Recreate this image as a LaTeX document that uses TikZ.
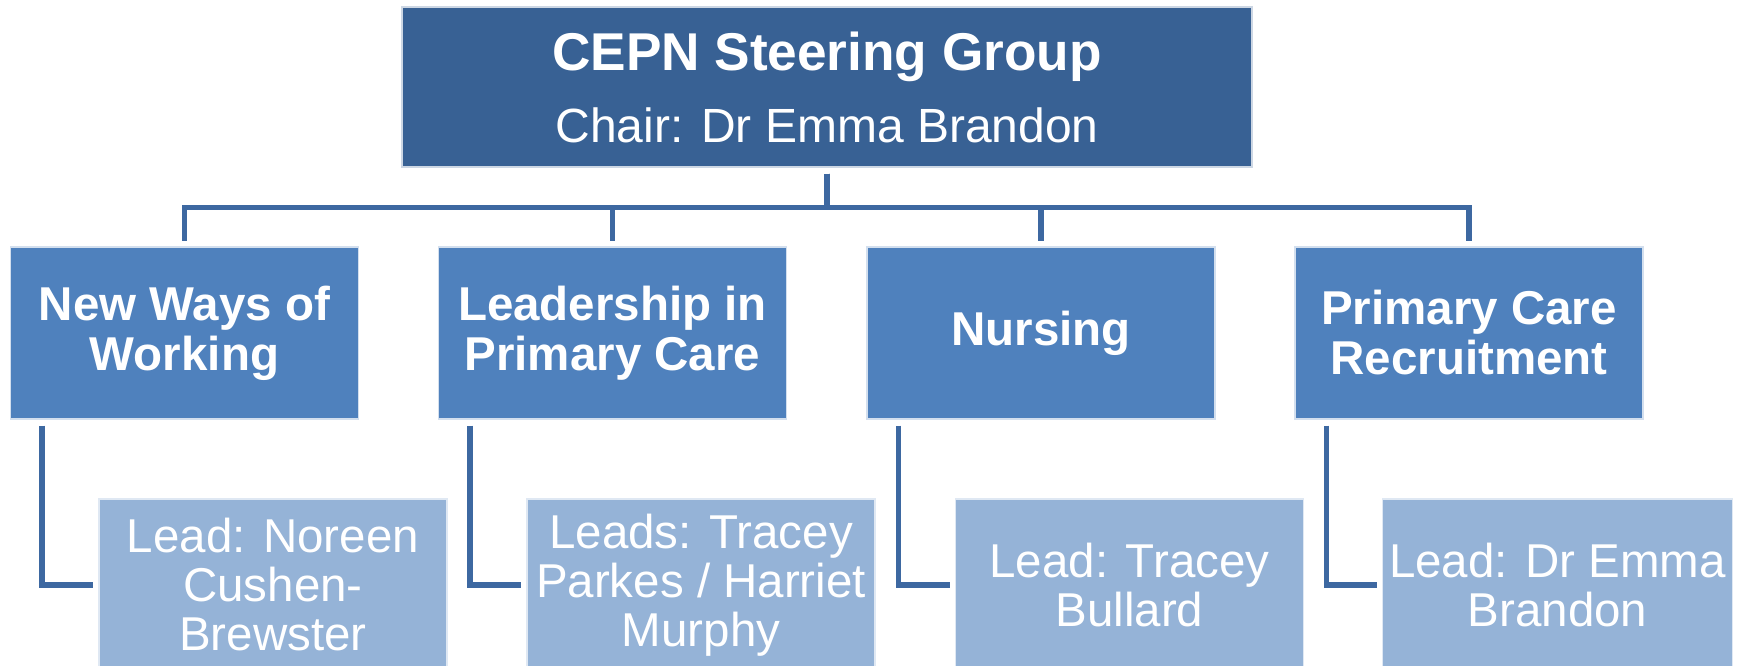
\documentclass[tikz,border=0pt]{standalone}
\usepackage{fontspec}
\setmainfont{Liberation Sans}
\definecolor{topblue}{HTML}{386194}
\definecolor{midblue}{HTML}{4F81BD}
\definecolor{leadblue}{HTML}{95B3D7}
\definecolor{linkblue}{HTML}{3D68A1}
\tikzset{
  steering/.style={fill=topblue,draw=white!75!topblue,line width=0.6pt,text=white,
    minimum width=425pt,minimum height=80pt,align=center,
    font=\fontsize{24}{36}\selectfont},
  group/.style={fill=midblue,draw=white!75!midblue,line width=0.6pt,text=white,
    minimum width=174pt,minimum height=86pt,align=center,
    font=\fontsize{23.75}{25}\selectfont\bfseries},
  lead/.style={fill=leadblue,draw=white!70!leadblue,line width=0.6pt,text=white,
    minimum width=174pt,minimum height=86pt,align=center,
    font=\fontsize{23.75}{24.5}\selectfont},
  link/.style={draw=linkblue,line width=2.6pt,shorten <=3pt,shorten >=2.5pt}
}
\begin{document}
\begin{tikzpicture}[x=0.5pt,y=-0.5pt]
\useasboundingbox (0,0) rectangle (1737,665);
\node[steering] (steer) at (827,87)
  {{\fontsize{26.6}{36}\selectfont\bfseries CEPN Steering Group}\\Chair: Dr Emma Brandon};
\foreach \n/\x/\txt/\ltxt in {
  1/184.5/{New Ways of\\Working}/{Lead: Noreen\\Cushen-\\Brewster},
  2/612.5/{Leadership in\\Primary Care}/{Leads: Tracey\\Parkes / Harriet\\Murphy},
  3/1041/{Nursing}/{Lead: Tracey\\Bullard},
  4/1469/{Primary Care\\Recruitment}/{Lead: Dr Emma\\Brandon}}{
  \node[group] (g\n) at (\x,333) {\txt};
  \node[lead] (l\n) at (\x+88.5,585) {\ltxt};
  \draw[link] (steer.south) -- ++(0,40) -| (g\n.north);
  \draw[link] ([xshift=16pt]g\n.south west) |- (l\n.west);
}
\end{tikzpicture}
\end{document}
